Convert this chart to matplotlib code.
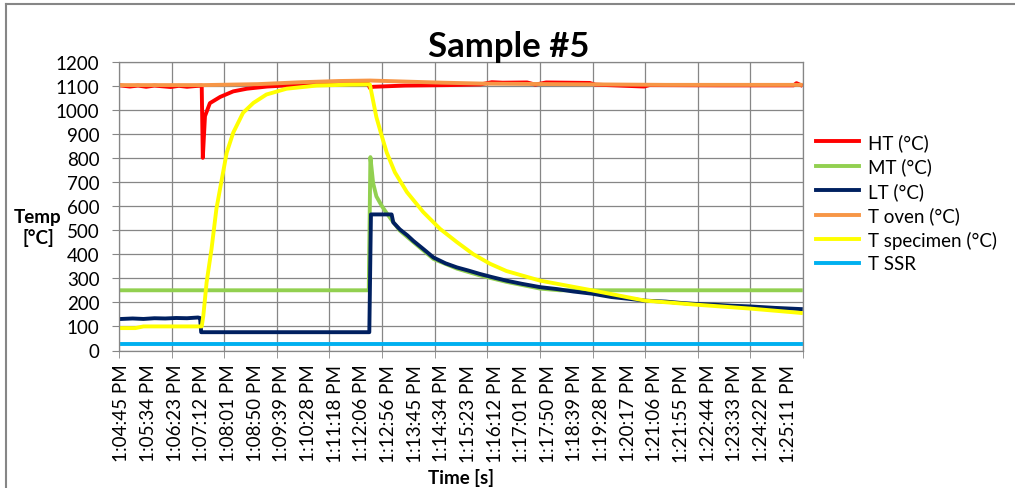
import matplotlib
matplotlib.use("Agg")
import matplotlib.pyplot as plt
import numpy as np
from matplotlib.lines import Line2D

plt.rcParams['font.family'] = ['Lato', 'DejaVu Sans']

# ---------------- data ----------------
time_labels = ["1:04:45 PM", "1:05:34 PM", "1:06:23 PM", "1:07:12 PM", "1:08:01 PM",
               "1:08:50 PM", "1:09:39 PM", "1:10:28 PM", "1:11:18 PM", "1:12:06 PM",
               "1:12:56 PM", "1:13:45 PM", "1:14:34 PM", "1:15:23 PM", "1:16:12 PM",
               "1:17:01 PM", "1:17:50 PM", "1:18:39 PM", "1:19:28 PM", "1:20:17 PM",
               "1:21:06 PM", "1:21:55 PM", "1:22:44 PM", "1:23:33 PM", "1:24:22 PM",
               "1:25:11 PM"]
label_step = 49  # samples between labels

series_names = ["HT (°C)", "MT (°C)", "LT (°C)", "T oven (°C)", "T specimen (°C)", "T SSR"]

ht_t = [0, 15, 30, 45, 60, 75, 90, 105, 120, 135, 147, 149, 153, 162, 181, 205, 230, 267, 328, 400,
        452, 456, 462, 520, 600, 660, 680, 700, 745, 760, 780, 860, 870, 960, 970, 1100, 1235, 1240, 1248]
ht_v = [1100, 1096, 1100, 1095, 1100, 1097, 1094, 1099, 1095, 1098, 1100, 800, 973, 1027, 1053, 1076, 1087, 1096, 1104, 1110,
        1112, 1090, 1095, 1100, 1102, 1105, 1114, 1112, 1113, 1104, 1113, 1111, 1104, 1096, 1102, 1101, 1101, 1110, 1102]

mt_t = [0, 454, 457, 462, 468, 478, 487, 496, 511, 536, 573, 616, 658, 707, 769, 805, 1248]
mt_v = [250, 250, 803, 695, 640, 600, 570, 542, 498, 450, 380, 340, 312, 285, 257, 250, 250]

lt_t = [0, 20, 40, 60, 80, 100, 120, 140, 144, 146, 300, 455, 458, 496, 499, 511, 525, 536, 555, 573,
        595, 616, 637, 658, 680, 707, 735, 769, 800, 830, 864, 900, 930, 962, 1000, 1030, 1057, 1090, 1120, 1155,
        1200, 1248]
lt_v = [131, 133, 131, 134, 133, 135, 134, 137, 135, 76, 76, 76, 565, 565, 532, 503, 478, 455, 420, 386,
        362, 345, 332, 318, 305, 290, 277, 263, 255, 245, 236, 222, 215, 207, 203, 197, 193, 190, 186, 183,
        177, 172]

oven_t = [0, 150, 250, 330, 400, 456, 530, 590, 670, 866, 1000, 1248]
oven_v = [1102, 1102, 1106, 1114, 1119, 1121, 1116, 1112, 1108, 1105, 1103, 1103]

spec_t = [0, 25, 40, 147, 150, 156, 165, 174, 184, 193, 205, 223, 242, 266, 303, 358, 420, 456, 462, 468,
          478, 487, 502, 524, 554, 585, 616, 646, 677, 707, 738, 769, 864, 962, 1057, 1155, 1248]
spec_v = [93, 93, 100, 100, 145, 283, 421, 588, 712, 822, 905, 987, 1028, 1063, 1087, 1100, 1104, 1105, 1037, 969,
          890, 822, 740, 658, 575, 505, 450, 400, 360, 330, 310, 290, 250, 207, 190, 174, 156]

ssr_t = [0, 1248]
ssr_v = [27, 27]

colors = ["#FF0000", "#92D050", "#002060", "#F79646", "#FFFF00", "#00B0F0"]

# ---------------- figure ----------------
W, H = 1015, 489
fig = plt.figure(figsize=(W / 100, H / 100), dpi=100)
L, R, T, B = 119, 803, 62.5, 351.5
ax = fig.add_axes([L / W, 1 - B / H, (R - L) / W, (B - T) / H])

all_series = [(ht_t, ht_v), (mt_t, mt_v), (lt_t, lt_v), (oven_t, oven_v), (spec_t, spec_v), (ssr_t, ssr_v)]
for (t, v), c, name in zip(all_series, colors, series_names):
    ax.plot(t, v, color=c, lw=2.8, solid_joinstyle='round', label=name)

ax.set_ylim(0, 1200)
ax.set_yticks(np.arange(0, 1201, 100))
x0, x1 = -5, 1252
ax.set_xlim(x0, x1)
ax.set_xticks([i * label_step for i in range(len(time_labels))])
ax.set_xticklabels(time_labels, rotation=90, va='top', ha='center')
ax.set_xticks(np.linspace(x0, x1, 14), minor=True)

gc = '#868686'
ax.grid(True, axis='y', which='major', color=gc, lw=0.9)
ax.grid(True, axis='x', which='minor', color=gc, lw=0.9)
ax.set_axisbelow(True)
for s in ax.spines.values():
    s.set_color(gc)
    s.set_linewidth(0.9)

ax.tick_params(axis='x', which='major', length=0, pad=9.5, labelsize=13.5)
ax.tick_params(axis='x', which='minor', length=5, color=gc, direction='out')
ax.tick_params(axis='y', which='major', length=5, color=gc, direction='out', pad=9, labelsize=13.5)

# titles
fig.text(509 / W, 1 - 46.7 / H, "Sample #5", ha='center', va='center', fontsize=25, fontweight='bold')
fig.text(38 / W, 1 - 228 / H, "Temp\n[°C]", ha='center', va='center', fontsize=13.5,
         fontweight='bold', linespacing=1.2)
fig.text(461 / W, 1 - 478 / H, "Time [s]", ha='center', va='center', fontsize=13.5, fontweight='bold')

# legend
handles = [Line2D([0], [0], color=c, lw=2.8) for c in colors]
fig.legend(handles, series_names, loc='upper left', bbox_to_anchor=(816 / W, 1 - 134 / H),
           frameon=False, fontsize=13.5, handlelength=2.3, handletextpad=0.5,
           labelspacing=0.35, borderpad=0, borderaxespad=0)

# chart area border (top and left visible)
fig.add_artist(Line2D([5.7 / W, 1.0], [1 - 4.7 / H, 1 - 4.7 / H], transform=fig.transFigure,
                      color=gc, lw=1.5))
fig.add_artist(Line2D([5.7 / W, 5.7 / W], [0, 1 - 4.7 / H], transform=fig.transFigure,
                      color=gc, lw=1.5))

fig.savefig("out.png", dpi=100)
